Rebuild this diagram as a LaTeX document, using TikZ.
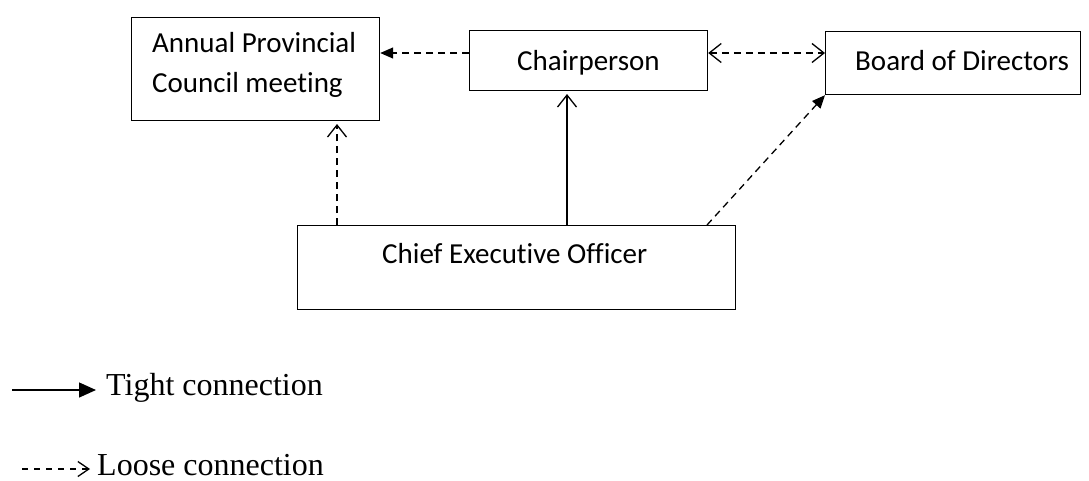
\documentclass[tikz,border=0pt]{standalone}
\usepackage{fontspec}
\setmainfont[Ligatures={NoCommon}]{Carlito}
\newfontfamily\legendfont{Liberation Serif}
\usetikzlibrary{arrows.meta}
\begin{document}
\begin{tikzpicture}[x=1pt,y=-1pt,
  box/.style={draw,line width=1.2pt,inner sep=0pt,anchor=north west},
  boxtext/.style={font=\fontsize{29}{40}\selectfont,anchor=base west,inner sep=0pt},
  loose/.style={dash pattern=on 7pt off 5pt,line width=1.3pt},
  tight/.style={line width=1.4pt},
  filled/.style={-{Triangle[length=13pt,width=11pt]}},
  openhead/.style={-{Straight Barb[length=12pt,width=19pt,line width=1.3pt]}},
  legtext/.style={font=\legendfont\fontsize{32}{36}\selectfont,anchor=base west,inner sep=0pt}]
\useasboundingbox (0,0) rectangle (1089,480);
\node[box,minimum width=248pt,minimum height=103pt] (apc) at (131,17) {};
\node[boxtext] (apct1) at (152,52) {Annual Provincial};
\node[boxtext] (apct2) at (152,92) {Council meeting};
\node[box,minimum width=238pt,minimum height=60pt] (chair) at (469,30) {};
\node[boxtext] (chairt) at (517,70) {Chairperson};
\node[box,minimum width=255pt,minimum height=63pt] (board) at (825,31) {};
\node[boxtext] (boardt) at (855,70) {Board of Directors};
\node[box,minimum width=438pt,minimum height=84pt] (ceo) at (297,225) {};
\node[boxtext] (ceot) at (382,263) {Chief Executive Officer};
% connectors
\draw[loose,filled] (chair.west |- 0,53) -- (apc.east |- 0,53);
\draw[loose,{Straight Barb[length=12pt,width=19pt,line width=1.3pt]}-{Straight Barb[length=12pt,width=19pt,line width=1.3pt]}] (chair.east |- 0,53) -- (board.west |- 0,53);
\coordinate (apcin) at (337,124);
\draw[loose,openhead] (ceo.north -| apcin) -- (apcin);
\coordinate (chairin) at (567,94);
\draw[tight,openhead] (ceo.north -| chairin) -- (chairin);
\coordinate (ceoout) at (707,225);
\draw[loose,filled] (ceoout) -- (board.south west);
% legend
\coordinate (t1) at (12,390);
\coordinate (t2) at (96,390);
\draw[tight,-{Triangle[length=17pt,width=15pt]}] (t1) -- (t2);
\node[legtext] (tl) at (106,395) {Tight connection};
\coordinate (l1) at (22,469);
\coordinate (l2) at (90,469);
\draw[dash pattern=on 6pt off 6pt,line width=1.2pt,-{Straight Barb[length=11pt,width=15pt,line width=1.3pt]}] (l1) -- (l2);
\node[legtext] (ll) at (97,475) {Loose connection};
\end{tikzpicture}
\end{document}
